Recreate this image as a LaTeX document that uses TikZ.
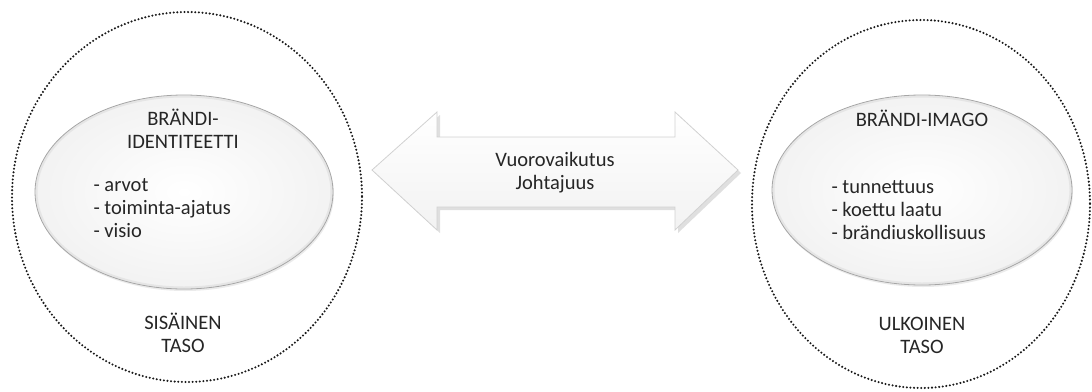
\documentclass[tikz,border=0pt]{standalone}
\usepackage{fontspec}
\setmainfont{Carlito}
\definecolor{txt}{HTML}{262626}
\begin{document}
\begin{tikzpicture}[x=1pt,y=-1pt,
  level/.style={draw=black!90,line width=2.3pt,line cap=round,dash pattern=on 0pt off 3.6pt},
  core/.style={inner color=white,outer color=black!5},
  rim/.style={draw=black!35,line width=0.8pt},
  lbl/.style={text=txt,font=\fontsize{20.5}{23}\selectfont,align=center},
  lst/.style={text=txt,font=\fontsize{20.5}{23}\selectfont,align=left,anchor=west}]
\useasboundingbox (0,0) rectangle (1092,391);
% outer dotted levels
\draw[level] (187,197) ellipse [x radius=175, y radius=185];
\draw[level] (921,204) ellipse [x radius=169, y radius=184];
% inner ellipses
\fill[black!8] (185,194) ellipse [x radius=149, y radius=97];
\shade[core] (184,192) ellipse [x radius=149, y radius=97];
\draw[black!10,line width=2pt] (184,192) ellipse [x radius=147.5, y radius=95.5];
\draw[rim] (184,192) ellipse [x radius=149, y radius=97];
\fill[black!8] (923,192) ellipse [x radius=150, y radius=95];
\shade[core] (922,190) ellipse [x radius=150, y radius=95];
\draw[black!10,line width=2pt] (922,190) ellipse [x radius=148.5, y radius=93.5];
\draw[rim] (922,190) ellipse [x radius=150, y radius=95];
% left texts
\node[lbl] (bi) at (183,129) {BRÄNDI-\\IDENTITEETTI};
\node[lst] (bil) at (90,208) {- arvot\\- toiminta-ajatus\\- visio};
\node[lbl] (sis) at (183,333) {SISÄINEN\\TASO};
% right texts
\node[lbl] (bimg) at (922,118) {BRÄNDI-IMAGO};
\node[lst] (bml) at (828,210) {- tunnettuus\\- koettu laatu\\- brändiuskollisuus};
\node[lbl] (ulk) at (922,335) {ULKOINEN\\TASO};
% double arrow
\coordinate (L) at (372,170);
\coordinate (R) at (738,170);
\fill[black!18,opacity=0.7] (375,173) -- (440,115) -- (440,140) -- (678,140) -- (678,115) -- (741,173) -- (678,233) -- (678,210) -- (440,210) -- (440,233) -- cycle;
\shade[top color=white,bottom color=black!5,draw=black!18,line width=0.8pt]
  (L) -- (437,112) -- (437,137) -- (675,137) -- (675,112) -- (R) -- (675,230) -- (675,207) -- (437,207) -- (437,230) -- cycle;
\node[lbl] (va) at (555,173) {Vuorovaikutus\\Johtajuus};
\end{tikzpicture}
\end{document}
